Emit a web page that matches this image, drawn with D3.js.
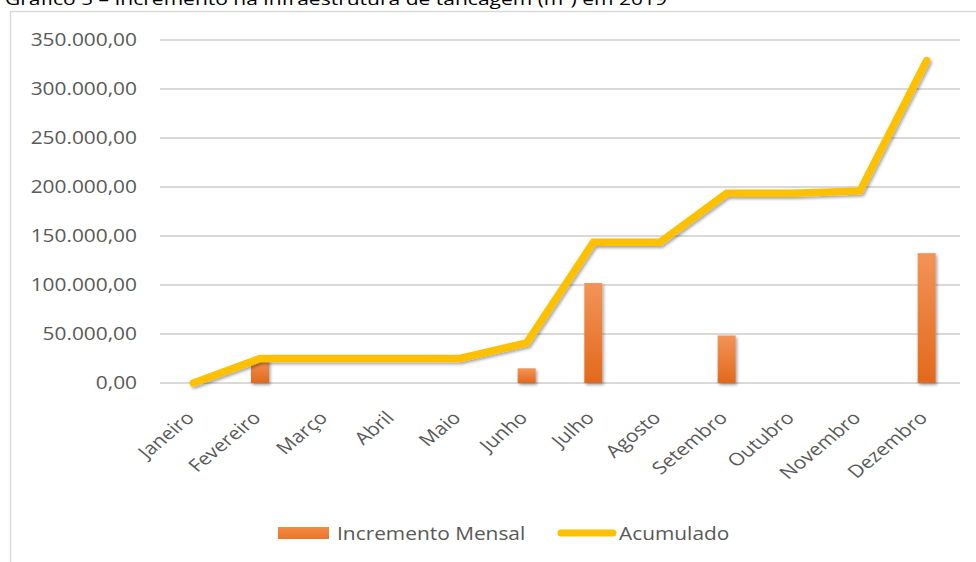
<!DOCTYPE html>
<html><head><meta charset="utf-8">
<script src="https://cdn.jsdelivr.net/npm/d3@7"></script>
<style>body{margin:0;background:#fff;} svg{display:block;}</style>
</head><body>
<script>
const categories = ["Janeiro","Fevereiro","Março","Abril","Maio","Junho","Julho","Agosto","Setembro","Outubro","Novembro","Dezembro"];
const incrementoMensal = [0, 24500, 0, 0, 0, 15000, 102000, 0, 48500, 0, 0, 132500];
const acumulado = [0, 25000, 25000, 25000, 25000, 41000, 143500, 143500, 193500, 193500, 196000, 329000];
const yTicks = [0, 50000, 100000, 150000, 200000, 250000, 300000, 350000];
const titleText = "Gráfico 5 – Incremento na infraestrutura de tancagem (m³) em 2019";
const legendLabels = ["Incremento Mensal", "Acumulado"];

const W = 976, H = 562;
const svg = d3.select("body").append("svg").attr("width", W).attr("height", H);
const defs = svg.append("defs");
const grad = defs.append("linearGradient").attr("id","barGrad").attr("x1",0).attr("y1",0).attr("x2",0).attr("y2",1);
grad.append("stop").attr("offset","0%").attr("stop-color","#F29458");
grad.append("stop").attr("offset","100%").attr("stop-color","#E2691C");
const lgrad = defs.append("linearGradient").attr("id","legGrad").attr("x1",0).attr("y1",0).attr("x2",0).attr("y2",1);
lgrad.append("stop").attr("offset","0%").attr("stop-color","#F48A48");
lgrad.append("stop").attr("offset","100%").attr("stop-color","#EB7428");
const sh = defs.append("filter").attr("id","shadow").attr("x","-20%").attr("y","-20%").attr("width","140%").attr("height","140%");
sh.append("feDropShadow").attr("dx",1.5).attr("dy",2).attr("stdDeviation",1.6).attr("flood-color","#000").attr("flood-opacity",0.35);

const font = "'Open Sans', 'Noto Sans', sans-serif";
const sx = 1.16;

// title (cut off at top, as in the reference)
svg.append("text").attr("x",5).attr("y",5).attr("font-family",font).attr("font-size",17)
  .attr("fill","#000").attr("textLength",662).attr("lengthAdjust","spacingAndGlyphs").text(titleText);

// chart border
svg.append("path").attr("d","M10.5,562 L10.5,11.5 L976,11.5").attr("fill","none").attr("stroke","#D9D9D9").attr("stroke-width",1.5);

const x = d3.scaleBand().domain(categories).range([160, 960]);
const y = d3.scaleLinear().domain([0, 350000]).range([383, 40]);

// gridlines
svg.append("g").selectAll("line").data(yTicks).join("line")
  .attr("x1",160).attr("x2",960).attr("y1",d=>y(d)).attr("y2",d=>y(d))
  .attr("stroke","#D9D9D9").attr("stroke-width",2);

// y labels
const fmt = d => d3.format(",.2f")(d).replace(/,/g,"#").replace(/\./g,",").replace(/#/g,".");
svg.append("g").selectAll("g").data(yTicks).join("g")
  .attr("transform",d=>`translate(137,${y(d)}) scale(${sx},1)`)
  .append("text").attr("text-anchor","end").attr("dy","0.36em")
  .attr("font-family",font).attr("font-size",18).attr("fill","#595959").text(fmt);

// x labels
svg.append("g").selectAll("g").data(categories).join("g")
  .attr("transform",d=>`translate(${x(d)+x.bandwidth()/2+2},${419}) scale(1.2,1) rotate(-45)`)
  .append("text").attr("text-anchor","end")
  .attr("font-family",font).attr("font-size",17.5).attr("fill","#595959").text(d=>d);

// bars
const bw = 18;
svg.append("g").attr("filter","url(#shadow)").selectAll("rect").data(categories).join("rect")
  .attr("x",(d)=>x(d)+x.bandwidth()/2-bw/2)
  .attr("y",(d,i)=>y(incrementoMensal[i]))
  .attr("width",bw)
  .attr("height",(d,i)=>y(0)-y(incrementoMensal[i]))
  .attr("fill","url(#barGrad)");

// line
const line = d3.line().x((d,i)=>x(categories[i])+x.bandwidth()/2).y(d=>y(d));
svg.append("path").datum(acumulado).attr("d",line).attr("fill","none")
  .attr("stroke","#FFC000").attr("stroke-width",7.5).attr("stroke-linejoin","miter").attr("stroke-linecap","round")
  .attr("filter","url(#shadow)");

// legend
const lg = svg.append("g");
lg.append("rect").attr("x",278).attr("y",527).attr("width",51).attr("height",12).attr("fill","url(#legGrad)");
lg.append("g").attr("transform",`translate(337,540) scale(${sx},1)`).append("text")
  .attr("font-family",font).attr("font-size",18).attr("fill","#595959").text(legendLabels[0]);
lg.append("line").attr("x1",561).attr("x2",613).attr("y1",533).attr("y2",533)
  .attr("stroke","#FFC000").attr("stroke-width",7).attr("stroke-linecap","round");
lg.append("g").attr("transform",`translate(619,540) scale(${sx},1)`).append("text")
  .attr("font-family",font).attr("font-size",18).attr("fill","#595959").text(legendLabels[1]);
</script>
</body></html>
